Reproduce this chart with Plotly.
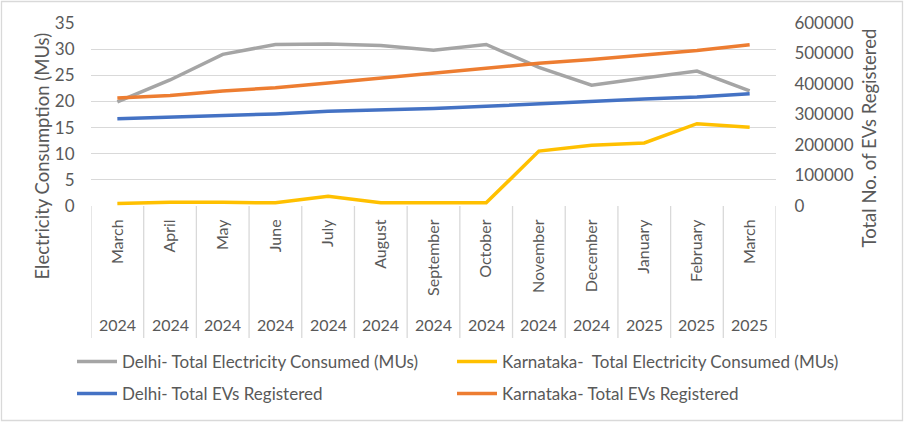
import plotly.graph_objects as go

months = ["March", "April", "May", "June", "July", "August", "September",
          "October", "November", "December", "January", "February", "March"]
years = ["2024", "2024", "2024", "2024", "2024", "2024", "2024",
         "2024", "2024", "2024", "2025", "2025", "2025"]

delhi_elec = [19.9, 24.1, 29.0, 30.9, 31.0, 30.7, 29.8, 30.9, 26.5, 23.1, 24.5, 25.8, 22.0]
karnataka_elec = [0.5, 0.7, 0.7, 0.6, 1.85, 0.6, 0.6, 0.6, 10.5, 11.6, 12.05, 15.75, 15.05]
delhi_evs = [286000, 291000, 295000, 302000, 311000, 315000, 320000, 327000, 335000,
             344000, 351000, 357000, 368000]
karnataka_evs = [354000, 362000, 377000, 388000, 403000, 419000, 435000, 453000, 468000,
                 480000, 495000, 510000, 529000]

FONT = "Lato, Liberation Sans, sans-serif"
TXT = "#595959"
GRID = "#d9d9d9"
CLEAR = "rgba(0,0,0,0)"

W, H = 904, 422
L, R, T, B = 91, 128, 23, 216
pw, ph = W - L - R, H - T - B
y0px = H - B  # pixel row of the plot's bottom edge


def py(v):
    return (y0px - v) / ph


x = list(range(len(months)))

fig = go.Figure()
fig.add_trace(go.Scatter(x=x, y=delhi_elec, name="Delhi- Total Electricity Consumed (MUs)",
                         mode="lines", line=dict(color="#A5A5A5", width=3.5), yaxis="y", legend="legend"))
fig.add_trace(go.Scatter(x=x, y=karnataka_elec, name="Karnataka-  Total Electricity Consumed (MUs)",
                         mode="lines", line=dict(color="#FFC000", width=3.5), yaxis="y", legend="legend2"))
fig.add_trace(go.Scatter(x=x, y=delhi_evs, name="Delhi- Total EVs Registered",
                         mode="lines", line=dict(color="#4472C4", width=3.5), yaxis="y2", legend="legend3"))
fig.add_trace(go.Scatter(x=x, y=karnataka_evs, name="Karnataka- Total EVs Registered",
                         mode="lines", line=dict(color="#ED7D31", width=3.5), yaxis="y2", legend="legend4"))

shapes = []
# category dividers (multi-level axis)
for i in range(len(months) + 1):
    shapes.append(dict(type="line", xref="x", yref="paper", x0=i - 0.5, x1=i - 0.5,
                       y0=0, y1=py(338), line=dict(color=GRID, width=1.3)))
# outer chart border
shapes.append(dict(type="rect", xref="paper", yref="paper",
                   x0=(1.5 - L) / pw, x1=(W - 1.5 - L) / pw,
                   y0=py(H - 1.5), y1=py(1.5),
                   line=dict(color="#d9d9d9", width=1.3), fillcolor=CLEAR))

annotations = []
for i, yr in enumerate(years):
    annotations.append(dict(x=i, y=py(324), xref="x", yref="paper", text=yr,
                            showarrow=False, font=dict(family=FONT, size=16, color=TXT),
                            xanchor="center", yanchor="middle"))
# axis titles
annotations.append(dict(x=(41 - L) / pw, y=py(31), xref="paper", yref="paper",
                        text="Electricity Consumption (MUs)", textangle=-90, showarrow=False,
                        font=dict(family=FONT, size=18.5, color=TXT), xanchor="center", yanchor="top"))
annotations.append(dict(x=(868 - L) / pw, y=py(27), xref="paper", yref="paper",
                        text="Total No. of EVs Registered", textangle=-90, showarrow=False,
                        font=dict(family=FONT, size=18.5, color=TXT), xanchor="center", yanchor="top"))


def leg(px, pyy):
    return dict(xref="container", yref="container", x=px / W, y=1 - pyy / H,
                xanchor="left", yanchor="middle", orientation="v",
                font=dict(family=FONT, size=17, color=TXT), itemwidth=40,
                bgcolor=CLEAR, borderwidth=0)


fig.update_layout(
    width=W, height=H,
    margin=dict(l=L, r=R, t=T, b=B, autoexpand=False),
    paper_bgcolor="white", plot_bgcolor="white",
    font=dict(family=FONT, size=16, color=TXT),
    xaxis=dict(range=[-0.5, len(months) - 0.5], tickmode="array", tickvals=x, ticktext=months,
               tickangle=-90, showgrid=False, zeroline=False, showline=False,
               ticks="outside", ticklen=6, tickcolor=CLEAR,
               tickfont=dict(size=16, color=TXT), automargin=False),
    yaxis=dict(range=[0, 35], dtick=5, showgrid=True, gridcolor=GRID, gridwidth=1.3,
               zeroline=False, showline=False, automargin=False,
               ticks="outside", ticklen=12, tickcolor=CLEAR,
               tickfont=dict(size=17, color=TXT)),
    yaxis2=dict(range=[0, 600000], dtick=100000, overlaying="y", side="right", showgrid=False,
                zeroline=False, showline=False, tickformat="d", automargin=False,
                ticks="outside", ticklen=14, tickcolor=CLEAR,
                tickfont=dict(size=17, color=TXT)),
    legend=leg(72, 362),
    legend2=leg(452, 362),
    legend3=leg(72, 394),
    legend4=leg(452, 394),
    shapes=shapes,
    annotations=annotations,
    showlegend=True,
)

fig.write_html("out.html", config={"displayModeBar": False},
               post_script="document.body.style.margin='0px';")
